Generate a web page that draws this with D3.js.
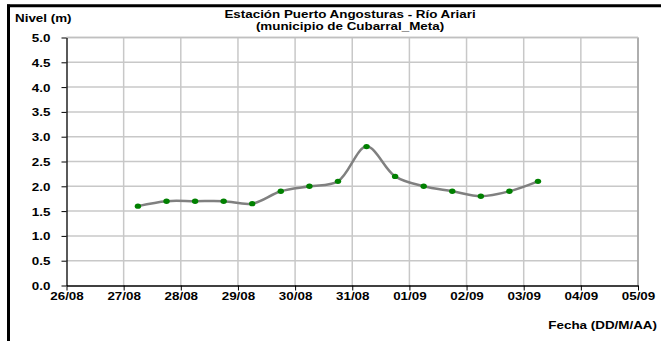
<!DOCTYPE html>
<html><head><meta charset="utf-8">
<script src="https://cdn.jsdelivr.net/npm/d3@7"></script>
<style>
html,body{margin:0;padding:0;background:#fff;}
svg{display:block;}
text{font-family:"Liberation Sans",Arial,sans-serif;font-weight:bold;font-size:11px;fill:#000;}
</style></head>
<body><svg id="c" width="661" height="341"></svg>
<script>
// Data (day offsets from 26/08 at 00:00)
const dayLabels = ["26/08","27/08","28/08","29/08","30/08","31/08","01/09","02/09","03/09","04/09","05/09"];
const times = [1.25,1.75,2.25,2.75,3.25,3.75,4.25,4.75,5.25,5.75,6.25,6.75,7.25,7.75,8.25];
const levels = [1.6,1.7,1.7,1.7,1.65,1.9,2.0,2.1,2.8,2.2,2.0,1.9,1.8,1.9,2.1];
const yTicks = [0,0.5,1,1.5,2,2.5,3,3.5,4,4.5,5];
const titleLines = ["Estación Puerto Angosturas - Río Ariari","(municipio de Cubarral_Meta)"];
const yTitle = "Nivel (m)";
const xTitle = "Fecha (DD/M/AA)";

const svg = d3.select("#c");
const SX = 1.22;
function txt(x, y, s, anchor, sx, size){
  const t = svg.append("text")
    .attr("transform", `translate(${x},${y}) scale(${sx || SX},1)`)
    .attr("text-anchor", anchor || "start").text(s);
  if (size) t.style("font-size", size + "px");
  return t;
}

const L = 66.5, R = 638, T = 37.5, B = 285.5;
const x = d3.scaleLinear().domain([0, 10]).range([L, R]);
const y = d3.scaleLinear().domain([0, 5]).range([B, T]);

// outer frame (left + top)
svg.append("line").attr("x1",8.5).attr("x2",8.5).attr("y1",4.5).attr("y2",341).attr("stroke","#000").attr("stroke-width",3);
svg.append("line").attr("x1",7).attr("x2",661).attr("y1",5.8).attr("y2",5.8).attr("stroke","#000").attr("stroke-width",3);

// grid
const grid = svg.append("g");
grid.selectAll("line.h").data(yTicks.filter(d=>d>0)).join("line")
  .attr("x1",L).attr("x2",R).attr("y1",d=>y(d)).attr("y2",d=>y(d))
  .attr("stroke","#c8c8c8").attr("stroke-width",1.5);
grid.selectAll("line.v").data(d3.range(1, dayLabels.length)).join("line")
  .attr("y1",T).attr("y2",B).attr("x1",d=>x(d)).attr("x2",d=>x(d))
  .attr("stroke","#c8c8c8").attr("stroke-width",1.5);
// plot border right/top
svg.append("line").attr("x1",R).attr("x2",R).attr("y1",T).attr("y2",B).attr("stroke","#a0a0a0").attr("stroke-width",1.5);
svg.append("line").attr("x1",L).attr("x2",R).attr("y1",T).attr("y2",T).attr("stroke","#c0c0c0").attr("stroke-width",1.5);

// axes
const ax = svg.append("g").attr("transform",`translate(0,${B})`)
  .call(d3.axisBottom(x).tickValues(d3.range(dayLabels.length)).tickFormat(i=>dayLabels[i]).tickSize(5).tickSizeOuter(0));
const ay = svg.append("g").attr("transform",`translate(${L},0)`)
  .call(d3.axisLeft(y).tickValues(yTicks).tickFormat(d3.format(".1f")).tickSize(5).tickSizeOuter(0));
[ax, ay].forEach(g=>{
  g.select(".domain").attr("stroke","#000").attr("stroke-width",1.3);
  g.selectAll(".tick line").attr("stroke","#000").attr("stroke-width",1);
  g.selectAll("text").attr("font-family",null).attr("font-size",null);
});
ax.selectAll(".tick text").attr("y",null).attr("dy",null)
  .attr("transform",`translate(0,14.5) scale(${SX},1)`);
ay.selectAll(".tick text").attr("x",null).attr("dy",null)
  .attr("transform",`translate(-16,4) scale(${SX},1)`);

// series
const pts = times.map((t,i)=>[t, levels[i]]);
svg.append("path").datum(pts)
  .attr("d", d3.line().x(d=>x(d[0])).y(d=>y(d[1])).curve(d3.curveCatmullRom.alpha(0.5)))
  .attr("fill","none").attr("stroke","#808080").attr("stroke-width",2.5);
svg.selectAll("ellipse.m").data(pts).join("ellipse")
  .attr("cx",d=>x(d[0])).attr("cy",d=>y(d[1])).attr("rx",3.2).attr("ry",2.7)
  .attr("fill","#008000");

// titles
txt(350, 18, titleLines[0], "middle", 1.34, 10);
txt(350, 30, titleLines[1], "middle", 1.34, 10);
txt(15, 22, yTitle, "start");
txt(657, 329, xTitle, "end");
</script></body></html>
